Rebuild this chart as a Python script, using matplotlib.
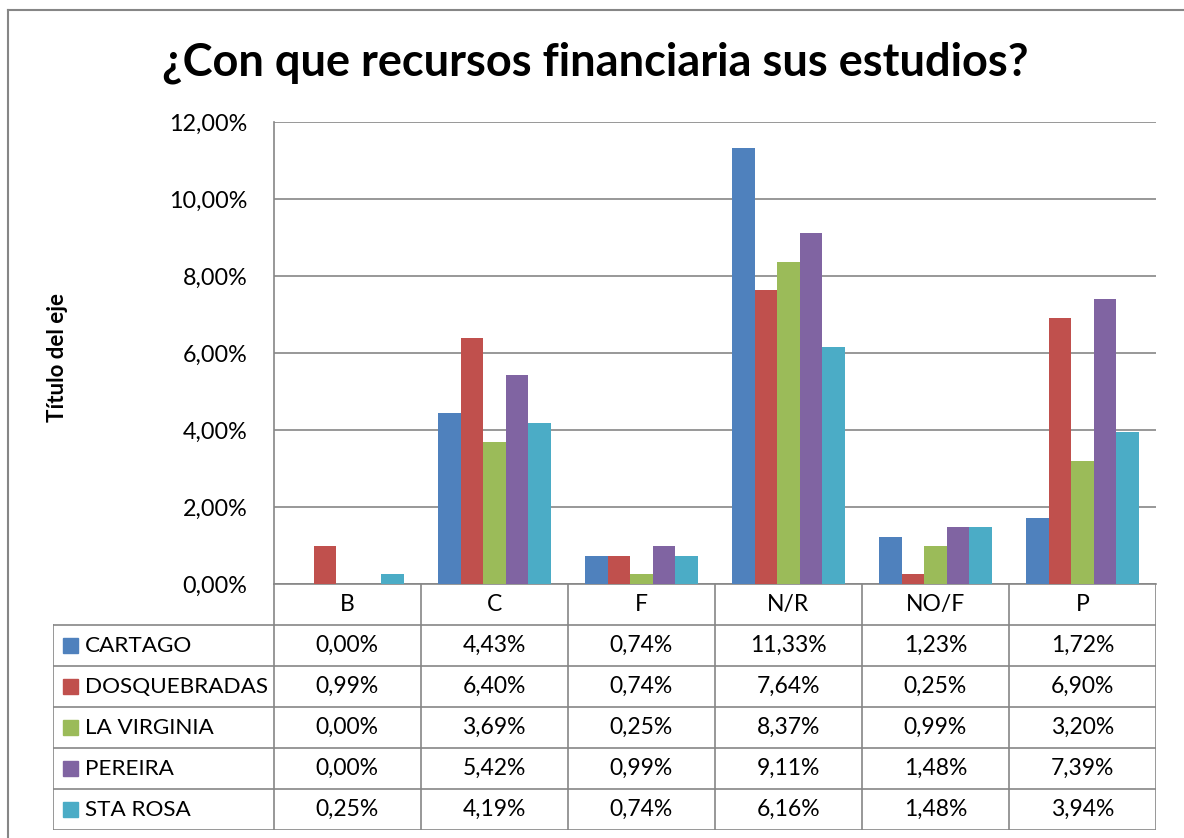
import numpy as np
import matplotlib
matplotlib.use("Agg")
import matplotlib.pyplot as plt
from matplotlib.patches import Rectangle
from matplotlib.lines import Line2D
from matplotlib.ticker import FuncFormatter

plt.rcParams["font.family"] = ["Lato", "DejaVu Sans"]

CATEGORIES = ["B", "C", "F", "N/R", "NO/F", "P"]
SERIES = ["CARTAGO", "DOSQUEBRADAS", "LA VIRGINIA", "PEREIRA", "STA ROSA"]
CARTAGO = [0.00, 4.43, 0.74, 11.33, 1.23, 1.72]
DOSQUEBRADAS = [0.99, 6.40, 0.74, 7.64, 0.25, 6.90]
LA_VIRGINIA = [0.00, 3.69, 0.25, 8.37, 0.99, 3.20]
PEREIRA = [0.00, 5.42, 0.99, 9.11, 1.48, 7.39]
STA_ROSA = [0.25, 4.19, 0.74, 6.16, 1.48, 3.94]
VALUES = [CARTAGO, DOSQUEBRADAS, LA_VIRGINIA, PEREIRA, STA_ROSA]
COLORS = ["#4F81BD", "#C0504D", "#9BBB59", "#8064A2", "#4BACC6"]

GRID = "#868686"
W, H = 1184, 838


def fmt_pct(v):
    return f"{v:.2f}%".replace(".", ",")


fig = plt.figure(figsize=(W / 100, H / 100), dpi=100)

# main bar chart
ax = fig.add_axes([274 / W, 1 - 584 / H, 882 / W, 462 / H])
x = np.arange(len(CATEGORIES))
bw = 0.153
for i, (vals, col) in enumerate(zip(VALUES, COLORS)):
    ax.bar(x + (i - 2) * bw, np.array(vals) / 100, width=bw, color=col,
           edgecolor="none", zorder=3)

ax.set_xlim(-0.5, len(CATEGORIES) - 0.5)
ax.set_ylim(0, 0.12)
ax.set_yticks(np.arange(0, 0.1201, 0.02))
ax.yaxis.set_major_formatter(FuncFormatter(lambda v, _: fmt_pct(v * 100)))
ax.set_xticks([])
ax.tick_params(axis="y", length=0, pad=19, labelsize=16.8)
ax.grid(axis="y", color=GRID, linewidth=1.2, zorder=0)
for s in ["top", "right"]:
    ax.spines[s].set_visible(False)
for s in ["left", "bottom"]:
    ax.spines[s].set_color(GRID)
    ax.spines[s].set_linewidth(1.2)

# data table under the chart
tx = fig.add_axes([53 / W, 8 / H, 1103 / W, 246 / H])
tx.set_xlim(-2.0, len(CATEGORIES) - 0.5)
tx.set_ylim(len(SERIES) + 1, 0)
tx.axis("off")

lw = 1.2
for r in range(1, len(SERIES) + 2):
    tx.add_line(Line2D([-2.0, len(CATEGORIES) - 0.5], [r, r], color=GRID, lw=lw))
for c in np.arange(-0.5, len(CATEGORIES), 1.0):
    tx.add_line(Line2D([c, c], [0, len(SERIES) + 1], color=GRID, lw=lw))
tx.add_line(Line2D([-2.0, -2.0], [1, len(SERIES) + 1], color=GRID, lw=lw))

for j, cat in enumerate(CATEGORIES):
    tx.text(j, 0.5, cat, ha="center", va="center", fontsize=16.5)

for i, (name, vals, col) in enumerate(zip(SERIES, VALUES, COLORS)):
    yc = i + 1.5
    tx.add_patch(Rectangle((-1.932, yc - 0.18), 0.102, 0.36, color=col))
    tx.text(-1.78, yc, name, ha="left", va="center", fontsize=16.2)
    for j, v in enumerate(vals):
        tx.text(j, yc, fmt_pct(v), ha="center", va="center", fontsize=16.5)

# titles
fig.text(595 / W, 1 - 63 / H, "¿Con que recursos financiaria sus estudios?",
         ha="center", va="center", fontsize=32.5, fontweight="bold")
fig.text(58 / W, 1 - 357 / H, "Título del eje", rotation=90,
         ha="center", va="center", fontsize=16, fontweight="bold")

# chart area border (top and left visible)
fig.add_artist(Line2D([8 / W, 1], [1 - 10 / H, 1 - 10 / H], color=GRID, lw=1.5,
                      transform=fig.transFigure))
fig.add_artist(Line2D([8 / W, 8 / W], [0, 1 - 10 / H], color=GRID, lw=1.5,
                      transform=fig.transFigure))

fig.savefig("out.png", dpi=100)
